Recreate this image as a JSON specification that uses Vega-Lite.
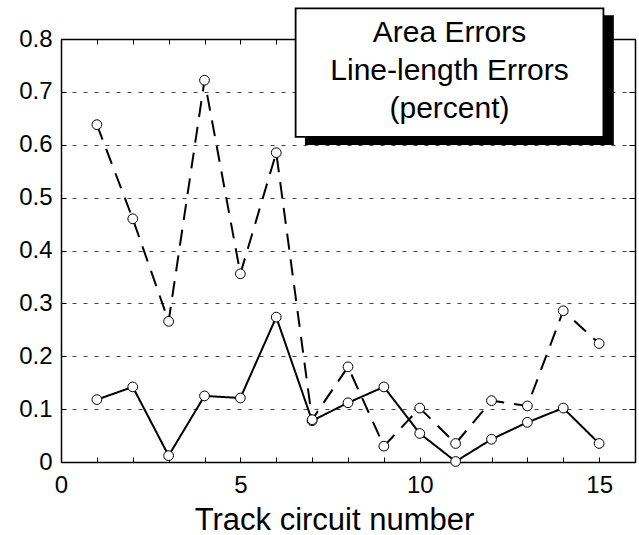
{
  "$schema": "https://vega.github.io/schema/vega-lite/v6.json",
  "autosize": "none",
  "width": 574,
  "height": 423,
  "padding": {"left": 61, "top": 39, "right": 4, "bottom": 73},
  "background": "white",
  "config": {
    "view": {"stroke": null},
    "font": "Liberation Sans",
    "axis": {"domainColor": "black", "domainWidth": 1.5, "tickColor": "black", "tickWidth": 1, "labelColor": "black", "titleColor": "black", "labelFont": "Liberation Sans", "titleFont": "Liberation Sans"}
  },
  "data": {
    "values": [
      {"track": 1, "series": "Area Errors", "error": 0.118},
      {"track": 2, "series": "Area Errors", "error": 0.142},
      {"track": 3, "series": "Area Errors", "error": 0.012},
      {"track": 4, "series": "Area Errors", "error": 0.125},
      {"track": 5, "series": "Area Errors", "error": 0.121},
      {"track": 6, "series": "Area Errors", "error": 0.274},
      {"track": 7, "series": "Area Errors", "error": 0.078},
      {"track": 8, "series": "Area Errors", "error": 0.112},
      {"track": 9, "series": "Area Errors", "error": 0.142},
      {"track": 10, "series": "Area Errors", "error": 0.054},
      {"track": 11, "series": "Area Errors", "error": 0.001},
      {"track": 12, "series": "Area Errors", "error": 0.043},
      {"track": 13, "series": "Area Errors", "error": 0.075},
      {"track": 14, "series": "Area Errors", "error": 0.102},
      {"track": 15, "series": "Area Errors", "error": 0.035},
      {"track": 1, "series": "Line-length Errors", "error": 0.638},
      {"track": 2, "series": "Line-length Errors", "error": 0.46},
      {"track": 3, "series": "Line-length Errors", "error": 0.266},
      {"track": 4, "series": "Line-length Errors", "error": 0.722},
      {"track": 5, "series": "Line-length Errors", "error": 0.356},
      {"track": 6, "series": "Line-length Errors", "error": 0.585},
      {"track": 7, "series": "Line-length Errors", "error": 0.08},
      {"track": 8, "series": "Line-length Errors", "error": 0.18},
      {"track": 9, "series": "Line-length Errors", "error": 0.03},
      {"track": 10, "series": "Line-length Errors", "error": 0.102},
      {"track": 11, "series": "Line-length Errors", "error": 0.035},
      {"track": 12, "series": "Line-length Errors", "error": 0.116},
      {"track": 13, "series": "Line-length Errors", "error": 0.106},
      {"track": 14, "series": "Line-length Errors", "error": 0.286},
      {"track": 15, "series": "Line-length Errors", "error": 0.224}
    ]
  },
  "resolve": {"axis": {"x": "independent", "y": "independent"}},
  "layer": [
    {
      "mark": {"type": "line", "color": "black", "strokeWidth": 2},
      "encoding": {
        "x": {"field": "track", "type": "quantitative",
          "scale": {"domain": [0, 16], "nice": false, "zero": false},
          "axis": {"orient": "bottom", "values": [0,1,2,3,4,5,6,7,8,9,10,11,12,13,14,15,16],
            "labelExpr": "datum.value % 5 === 0 ? datum.label : ''",
            "tickSize": -5, "labelPadding": 16, "labelFontSize": 24, "labelFlush": false,
            "grid": false, "title": "Track circuit number", "titleFontSize": 31, "titleFontWeight": "normal",
            "titleX": 273, "titleY": 67, "titleBaseline": "alphabetic", "titleAnchor": null, "titleAlign": "center"}},
        "y": {"field": "error", "type": "quantitative",
          "scale": {"domain": [0, 0.8], "nice": false},
          "axis": {"orient": "left", "values": [0,0.1,0.2,0.3,0.4,0.5,0.6,0.7,0.8], "format": ".1~f",
            "tickSize": -5, "labelPadding": 14, "labelFontSize": 24, "labelFlush": false,
            "grid": true, "gridColor": "#444", "gridDash": [4, 7], "gridWidth": 1, "title": null}},
        "strokeDash": {"field": "series", "type": "nominal",
          "scale": {"domain": ["Area Errors", "Line-length Errors"], "range": [[1, 0], [16, 10]]}, "legend": null},
        "detail": {"field": "series"}
      }
    },
    {
      "mark": {"type": "point", "shape": "circle", "filled": true, "fill": "white", "stroke": "black", "strokeWidth": 1, "size": 95, "opacity": 1},
      "encoding": {
        "x": {"field": "track", "type": "quantitative",
          "scale": {"domain": [0, 16], "nice": false, "zero": false},
          "axis": {"orient": "top", "values": [0,1,2,3,4,5,6,7,8,9,10,11,12,13,14,15,16], "labels": false,
            "tickSize": -5, "grid": false, "title": null}},
        "y": {"field": "error", "type": "quantitative",
          "scale": {"domain": [0, 0.8], "nice": false},
          "axis": {"orient": "right", "values": [0,0.1,0.2,0.3,0.4,0.5,0.6,0.7,0.8], "labels": false,
            "tickSize": -6, "grid": false, "title": null}}
      }
    },
    {
      "data": {"values": [{"box": "shadow"}]},
      "mark": {"type": "rect", "fill": "black", "clip": false},
      "encoding": {
        "x": {"datum": 6.8, "type": "quantitative", "scale": {"domain": [0, 16], "nice": false, "zero": false}, "axis": null},
        "x2": {"datum": 15.41},
        "y": {"datum": 0.5995, "type": "quantitative", "scale": {"domain": [0, 0.8], "nice": false}, "axis": null},
        "y2": {"datum": 0.845}
      }
    },
    {
      "data": {"values": [{"box": "frame"}]},
      "mark": {"type": "rect", "fill": "white", "stroke": "black", "strokeWidth": 1.8, "clip": false},
      "encoding": {
        "x": {"datum": 6.54, "type": "quantitative", "scale": {"domain": [0, 16], "nice": false, "zero": false}, "axis": null},
        "x2": {"datum": 15.12},
        "y": {"datum": 0.615, "type": "quantitative", "scale": {"domain": [0, 0.8], "nice": false}, "axis": null},
        "y2": {"datum": 0.858}
      }
    },
    {
      "data": {"values": [{"label": "Area Errors\nLine-length Errors\n(percent)"}]},
      "mark": {"type": "text", "font": "Liberation Sans", "fontSize": 30, "color": "black", "align": "center", "baseline": "middle", "lineBreak": "\n", "lineHeight": 38},
      "encoding": {
        "text": {"field": "label", "type": "nominal"},
        "x": {"datum": 10.83, "type": "quantitative", "scale": {"domain": [0, 16], "nice": false, "zero": false}, "axis": null},
        "y": {"datum": 0.8115, "type": "quantitative", "scale": {"domain": [0, 0.8], "nice": false}, "axis": null}
      }
    }
  ]
}
